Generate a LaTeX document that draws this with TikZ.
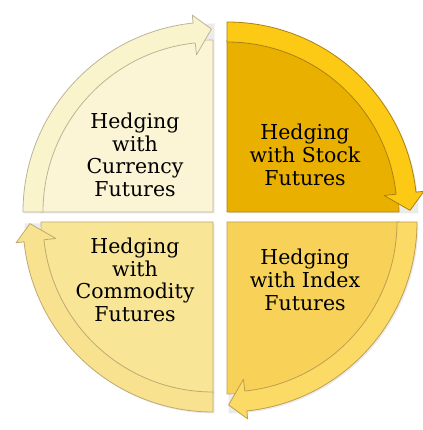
\documentclass[tikz,border=0pt]{standalone}
\usepackage{fontspec}
\setmainfont{DejaVu Serif}
\usetikzlibrary{positioning, calc}
\definecolor{StockBody}{RGB}{234,176,0}
\definecolor{StockBand}{RGB}{252,202,20}
\definecolor{StockLine}{RGB}{170,128,20}
\definecolor{IndexBody}{RGB}{248,210,88}
\definecolor{IndexBand}{RGB}{251,218,102}
\definecolor{IndexLine}{RGB}{190,158,80}
\definecolor{CommodityBody}{RGB}{249,229,150}
\definecolor{CommodityBand}{RGB}{248,226,144}
\definecolor{CommodityLine}{RGB}{190,170,112}
\definecolor{CurrencyBody}{RGB}{251,245,214}
\definecolor{CurrencyBand}{RGB}{250,244,204}
\definecolor{CurrencyLine}{RGB}{188,180,150}

\begin{document}
\begin{tikzpicture}[x=1pt, y=1pt,
    label text/.style={align=center, font=\fontsize{20.5}{22.7}\selectfont, text=black}]
  \useasboundingbox (-220,-213) rectangle (202,217);

  % four quarters, each with its clockwise arrow band on the rim
  \foreach \cx/\cy/\a/\q in {7/5/90/Stock, 7/-5/0/Index, -7/-5/-90/Commodity, -7/5/180/Currency}{
    \pgfmathsetmacro\z{\a-90}
    \pgfmathsetmacro\b{\a-84}
    \pgfmathsetmacro\e{\a-89.5}
    \begin{scope}[shift={(\cx,\cy)}]
      % soft shadow
      \fill[black, opacity=0.08] (1.5,-1.5) -- ++(\a:190) arc[start angle=\a, end angle=\z, radius=190] -- cycle;
      \filldraw[fill=\q Body, draw=\q Line, line width=0.6pt]
        (0,0) -- (\a:172) arc[start angle=\a, end angle=\z, radius=172] -- cycle;
      \filldraw[fill=\q Band, draw=\q Line, line width=0.8pt, line join=round]
        (\a:190) arc[start angle=\a, end angle=\b, radius=190]
        -- (\b:198) -- (\e:183) -- (\b:158) -- (\b:170)
        arc[start angle=\b, end angle=\a, radius=170] -- cycle;
    \end{scope}
  }

  \node[label text] (stock) at (85,62) {Hedging\\with Stock\\Futures};
  \node[label text] (currency) at (-85,62) {Hedging\\with\\Currency\\Futures};
  \node[label text] (index) at (85,-63) {Hedging\\with Index\\Futures};
  \node[label text] (commodity) at (-85,-63) {Hedging\\with\\Commodity\\Futures};
\end{tikzpicture}
\end{document}
